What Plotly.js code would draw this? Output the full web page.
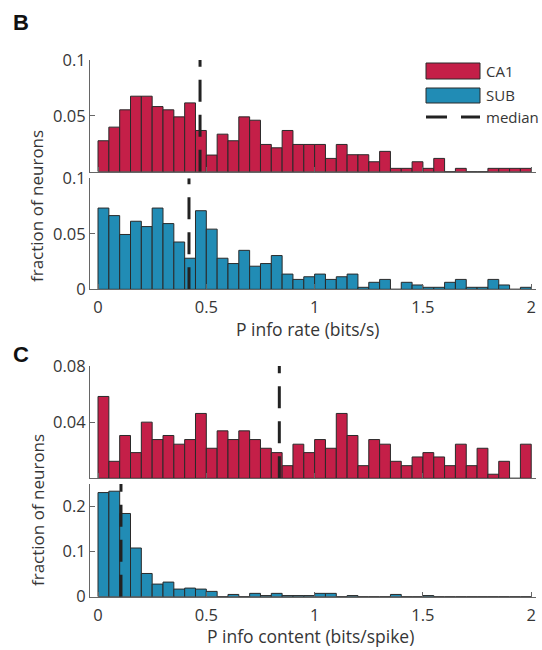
<!DOCTYPE html>
<html>
<head>
<meta charset="utf-8">
<script src="https://cdn.plot.ly/plotly-3.0.1.min.js"></script>
<style>html,body{margin:0;padding:0;background:#fff;}#chart{width:542px;height:650px;}</style>
</head>
<body>
<div id="chart"></div>
<script>
// Bin centres (bin width 0.05, 0 to 2)
const binCenters = [0.025,0.075,0.125,0.175,0.225,0.275,0.325,0.375,0.425,0.475,
  0.525,0.575,0.625,0.675,0.725,0.775,0.825,0.875,0.925,0.975,
  1.025,1.075,1.125,1.175,1.225,1.275,1.325,1.375,1.425,1.475,
  1.525,1.575,1.625,1.675,1.725,1.775,1.825,1.875,1.925,1.975];

// Panel B: P info rate (bits/s)
const ca1Rate = [0.0277,0.0399,0.0554,0.0676,0.0676,0.0583,0.0554,0.0491,0.0616,0.0369,
  0.0149,0.0336,0.0277,0.0491,0.0461,0.0244,0.0214,0.0369,0.0244,0.0244,
  0.0244,0.0119,0.0244,0.0152,0.0152,0.0089,0.0182,0.003,0.003,0.0089,
  0.003,0.0119,0,0.003,0,0,0.003,0.003,0.003,0.003];
const subRate = [0.0732,0.0664,0.0494,0.0613,0.0565,0.0732,0.0592,0.0426,0.028,0.0708,
  0.0542,0.028,0.0232,0.0351,0.0208,0.0232,0.0304,0.0137,0.0089,0.0113,
  0.0137,0.0089,0.0113,0.0137,0.0018,0.0063,0.0089,0,0.0063,0.0039,
  0.0018,0.0018,0.0063,0.0089,0.0018,0.0018,0.0089,0.0039,0,0.0018];

// Panel C: P info content (bits/spike)
const ca1Content = [0.0583,0.0121,0.0305,0.0183,0.04,0.0276,0.0305,0.0243,0.0276,0.0462,
  0.0214,0.0338,0.0276,0.0338,0.0276,0.0214,0.0183,0.009,0.0243,0.0183,
  0.0276,0.0214,0.0462,0.0305,0.009,0.0276,0.0243,0.0121,0.009,0.0152,
  0.0183,0.0152,0.009,0.0243,0.009,0.0214,0.0029,0.0121,0,0.0243];
const subContent = [0.231,0.234,0.1846,0.108,0.0515,0.028,0.0324,0.0169,0.0191,0.0169,
  0.0118,0,0.005,0,0.0074,0.0025,0.0074,0.0025,0.0025,0.0025,
  0.0074,0.0074,0,0.0025,0,0,0,0.005,0,0,
  0.0025,0,0,0,0,0,0,0,0,0];

// Medians
const medianRateCA1 = 0.471;
const medianRateSUB = 0.42;
const medianContentCA1 = 0.837;
const medianContentSUB = 0.106;

// Axis ranges and ticks
const yTopRate = 0.1, yTopContentCA1 = 0.08, yTopContentSUB = 0.25;
const xTickVals = [0, 0.5, 1, 1.5, 2];
const xTickText = ['0', '0.5', '1', '1.5', '2'];
const labels = {ca1: 'CA1', sub: 'SUB', median: 'median'};

const RED = '#C41F48', BLUE = '#218CB5', EDGE = '#2a2a2a', DASHC = '#222222';
const W = 542, H = 650;
const px = x => x / W;
const py = y => 1 - y / H;
const FONT = 'Open Sans, Noto Sans, sans-serif';
const TXT = '#363636';

function bars(y, color, xa, ya) {
  return {type: 'bar', x: binCenters, y: y, width: 0.05, xaxis: xa, yaxis: ya,
    marker: {color: color, line: {color: EDGE, width: 1}}, showlegend: false, hoverinfo: 'skip'};
}
function medLine(m, top, xa, ya) {
  return {type: 'scatter', mode: 'lines', x: [m, m], y: [0, top], xaxis: xa, yaxis: ya,
    line: {color: DASHC, width: 3, dash: '22px,13px'}, showlegend: false, hoverinfo: 'skip'};
}

const data = [
  bars(ca1Rate, RED, 'x', 'y'), medLine(medianRateCA1, yTopRate, 'x', 'y'),
  bars(subRate, BLUE, 'x2', 'y2'), medLine(medianRateSUB, yTopRate, 'x2', 'y2'),
  bars(ca1Content, RED, 'x3', 'y3'), medLine(medianContentCA1, yTopContentCA1, 'x3', 'y3'),
  bars(subContent, BLUE, 'x4', 'y4'), medLine(medianContentSUB, yTopContentSUB, 'x4', 'y4')
];

const xDom = [px(90), px(536)];
const xRange = [-0.037, 2.022];
function xax(anchor, showLabels) {
  return {anchor: anchor, domain: xDom, range: xRange, showgrid: false, zeroline: false,
    showline: true, linecolor: '#666', linewidth: 1, ticks: 'inside', ticklen: 5, tickcolor: '#666',
    tickvals: xTickVals, ticktext: xTickText, showticklabels: showLabels, ticklabelstandoff: 3,
    tickfont: {family: FONT, size: 16.5, color: TXT}};
}
function yax(anchor, top, bottom, range, vals) {
  return {anchor: anchor, domain: [py(bottom), py(top)], range: range, showgrid: false, zeroline: false,
    showline: true, linecolor: '#666', linewidth: 1, ticks: 'inside', ticklen: 5, tickcolor: '#666',
    tickvals: vals, tickfont: {family: FONT, size: 16.5, color: TXT}};
}

const shapes = [
  {type: 'rect', xref: 'paper', yref: 'paper', x0: px(426), x1: px(480), y0: py(79), y1: py(63),
    fillcolor: RED, line: {color: EDGE, width: 1}},
  {type: 'rect', xref: 'paper', yref: 'paper', x0: px(426), x1: px(480), y0: py(103), y1: py(88),
    fillcolor: BLUE, line: {color: EDGE, width: 1}},
  {type: 'line', xref: 'paper', yref: 'paper', x0: px(426), x1: px(480), y0: py(117), y1: py(117),
    line: {color: DASHC, width: 3, dash: '21px,14px'}}
];

function ann(text, x, y, opts) {
  return Object.assign({xref: 'paper', yref: 'paper', x: px(x), y: py(y), text: text, showarrow: false,
    xanchor: 'center', yanchor: 'middle', font: {family: FONT, size: 16, color: TXT}}, opts || {});
}

const annotations = [
  ann('<b>B</b>', 11, 22, {xanchor: 'left', font: {family: 'Liberation Sans, Arial, sans-serif', size: 22, color: '#111'}}),
  ann('<b>C</b>', 11, 355, {xanchor: 'left', font: {family: 'Liberation Sans, Arial, sans-serif', size: 22, color: '#111'}}),
  ann(labels.ca1, 484, 71, {xanchor: 'left', font: {family: FONT, size: 15, color: TXT}}),
  ann(labels.sub, 484, 95, {xanchor: 'left', font: {family: FONT, size: 15, color: TXT}}),
  ann(labels.median, 484, 117, {xanchor: 'left', font: {family: FONT, size: 15, color: TXT}}),
  ann('fraction of neurons', 37, 206, {textangle: -90, font: {family: FONT, size: 17, color: TXT}}),
  ann('fraction of neurons', 37, 510, {textangle: -90, font: {family: FONT, size: 17, color: TXT}}),
  ann('P info rate (bits/s)', 307, 329, {font: {family: FONT, size: 17.5, color: TXT}}),
  ann('P info content (bits/spike)', 310, 636, {font: {family: FONT, size: 17.5, color: TXT}})
];

const layout = {
  width: W, height: H, margin: {l: 0, r: 0, t: 0, b: 0},
  paper_bgcolor: '#fff', plot_bgcolor: 'rgba(0,0,0,0)',
  bargap: 0, showlegend: false, font: {family: FONT, color: TXT},
  xaxis: xax('y', false),
  yaxis: yax('x', 60, 171.7, [0, yTopRate], [0.05, 0.1]),
  xaxis2: xax('y2', true),
  yaxis2: yax('x2', 178.3, 289.3, [0, yTopRate], [0, 0.05, 0.1]),
  xaxis3: xax('y3', false),
  yaxis3: yax('x3', 366, 478.3, [0, yTopContentCA1], [0.04, 0.08]),
  xaxis4: xax('y4', true),
  yaxis4: yax('x4', 484, 596.7, [0, yTopContentSUB], [0, 0.1, 0.2]),
  shapes: shapes, annotations: annotations
};

Plotly.newPlot('chart', data, layout, {staticPlot: true, displayModeBar: false});
</script>
</body>
</html>
